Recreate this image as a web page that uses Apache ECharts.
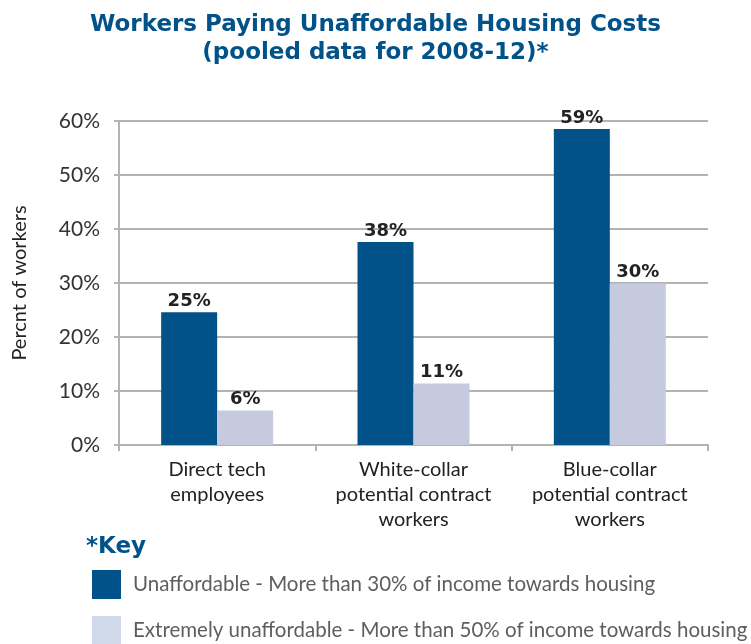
<!DOCTYPE html>
<html>
<head>
<meta charset="utf-8">
<script src="https://cdn.jsdelivr.net/npm/echarts@6/dist/echarts.min.js"></script>
<style>
  html, body { margin: 0; padding: 0; background: #fff; }
  #main { width: 751px; height: 644px; }
</style>
</head>
<body>
<div id="main"></div>
<script>
// categories and values
var categories = ['Direct tech\nemployees', 'White-collar\npotential contract\nworkers', 'Blue-collar\npotential contract\nworkers'];
var unaffordable = [24.6, 37.6, 58.5];
var extremely = [6.4, 11.4, 29.9];
var seriesNames = [
  'Unaffordable - More than 30% of income towards housing',
  'Extremely unaffordable - More than 50% of income towards housing'
];

var font = 'Lato, "Open Sans", sans-serif';
var boldFont = '"DejaVu Sans", sans-serif';
var blue = '#02528a';
var light = '#c5cadf';

var mychart = echarts.init(document.getElementById('main'));

var labelOpt = {
  show: true,
  position: 'top',
  distance: 2,
  fontFamily: boldFont,
  fontWeight: 'bold',
  fontSize: 18,
  color: '#222',
  formatter: function (p) { return Math.round(p.value) + '%'; }
};

// one legend block per key line (the key runs off the bottom edge)
function keyLegend(name, top, color) {
  return {
    orient: 'vertical',
    left: 92,
    top: top,
    padding: 0,
    itemWidth: 29,
    itemHeight: 29,
    icon: 'rect',
    textStyle: {
      fontFamily: font,
      fontSize: 20.5,
      color: '#5e5e5e',
      padding: [6, 0, 0, 7]
    },
    data: [{ name: name, itemStyle: { color: color } }]
  };
}

var option = {
  animation: false,
  title: [{
    text: 'Workers Paying Unaffordable Housing Costs\n(pooled data for 2008-12)*',
    left: 'center',
    top: 6,
    textStyle: {
      fontFamily: boldFont,
      fontWeight: 'bold',
      fontSize: 23,
      lineHeight: 28,
      color: blue
    }
  }, {
    text: '*Key',
    left: 81,
    top: 531,
    textStyle: {
      fontFamily: boldFont,
      fontWeight: 'bold',
      fontSize: 23,
      color: blue
    }
  }],
  legend: [
    keyLegend(seriesNames[0], 570, blue),
    keyLegend(seriesNames[1], 616, '#cfd9ea')
  ],
  grid: {
    left: 119,
    right: 43,
    top: 121,
    bottom: 199,
    containLabel: false,
    outerBoundsMode: 'none'
  },
  xAxis: {
    type: 'category',
    data: categories,
    axisLine: { lineStyle: { color: '#b3b3b3', width: 2 } },
    axisTick: { show: true, length: 6, lineStyle: { color: '#b3b3b3', width: 2 } },
    axisLabel: {
      interval: 0,
      hideOverlap: false,
      fontFamily: font,
      fontSize: 20,
      lineHeight: 25,
      color: '#222',
      margin: 12
    }
  },
  yAxis: {
    type: 'value',
    min: 0,
    max: 60,
    interval: 10,
    name: 'Percnt of workers',
    nameLocation: 'middle',
    nameRotate: 90,
    nameGap: 89,
    nameTextStyle: { fontFamily: font, fontSize: 20, color: '#222' },
    axisLine: { show: true, lineStyle: { color: '#b3b3b3', width: 2 } },
    axisTick: { show: true, length: 5, lineStyle: { color: '#b3b3b3', width: 2 } },
    splitLine: { lineStyle: { color: '#b3b3b3', width: 2 } },
    axisLabel: {
      fontFamily: font,
      fontSize: 21,
      color: '#333',
      margin: 19,
      formatter: '{value}%'
    }
  },
  series: [{
    name: seriesNames[0],
    type: 'bar',
    data: unaffordable,
    barWidth: 56,
    barGap: '0%',
    itemStyle: { color: blue },
    label: labelOpt
  }, {
    name: seriesNames[1],
    type: 'bar',
    data: extremely,
    barWidth: 56,
    itemStyle: { color: light },
    label: labelOpt
  }]
};

mychart.setOption(option);
</script>
</body>
</html>
